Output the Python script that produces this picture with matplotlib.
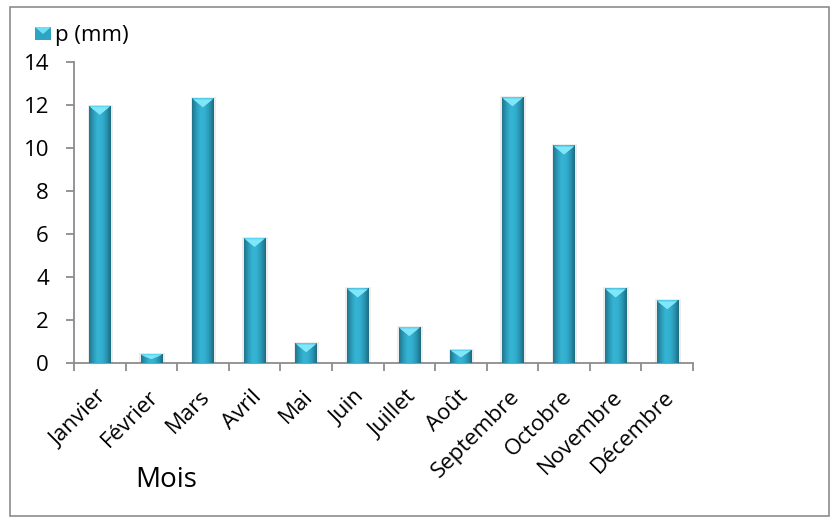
import numpy as np
import matplotlib.pyplot as plt
from matplotlib.colors import LinearSegmentedColormap
from matplotlib.patches import Rectangle, Polygon

mois = ['Janvier', 'Février', 'Mars', 'Avril', 'Mai', 'Juin',
        'Juillet', 'Août', 'Septembre', 'Octobre', 'Novembre', 'Décembre']
p_mm = [11.95, 0.4, 12.3, 5.8, 0.9, 3.45, 1.65, 0.6, 12.35, 10.1, 3.45, 2.9]
serie = 'p (mm)'
y_ticks = [0, 2, 4, 6, 8, 10, 12, 14]

plt.rcParams['font.family'] = ['Open Sans', 'DejaVu Sans']

fig = plt.figure(figsize=(8.39, 5.24), dpi=100)
ax = fig.add_axes([0.0882, 0.3082, 0.7378, 0.5741])

# horizontal shading across each bar, dark edges and bright middle
shade = LinearSegmentedColormap.from_list(
    'cyl', ['#22738a', '#2b9cba', '#36b5d5', '#33afcf', '#2896b3', '#1f6a7e'])
grad = np.linspace(0, 1, 64).reshape(1, -1)

width = 0.415
x = np.arange(len(mois)) + 0.5
bars = ax.bar(x, p_mm, width=width, color='#2ea4c3', edgecolor='none', zorder=2)

for b, h in zip(bars, p_mm):
    x0 = b.get_x()
    x1 = x0 + b.get_width()
    # soft shadow around the bar
    ax.add_patch(Rectangle((x0 - 0.03, 0), x1 - x0 + 0.08, h + 0.05, color='#000000',
                           alpha=0.07, lw=0, zorder=1))
    im = ax.imshow(grad, cmap=shade, extent=[x0, x1, 0, h], aspect='auto',
                   zorder=3, interpolation='bicubic')
    im.set_clip_path(b)
    # bevelled top cap
    d = min(0.42, h * 0.6)
    xc = (x0 + x1) / 2
    ax.add_patch(Polygon([[x0, h], [x1, h], [x1 - 0.03, h - 0.07],
                          [xc, h - d], [x0 + 0.03, h - 0.07]],
                         closed=True, color='#5fd6ef', lw=0, zorder=4))
    ax.add_patch(Polygon([[x0 + 0.03, h - 0.07], [xc, h - d], [x1 - 0.03, h - 0.07]],
                         closed=True, color='#7fe7f9', lw=0, zorder=4))

ax.set_xlim(0, 12)
ax.set_ylim(0, 14)

axis_grey = '#8c8c8c'
for side in ['top', 'right']:
    ax.spines[side].set_visible(False)
for side in ['left', 'bottom']:
    ax.spines[side].set_color(axis_grey)
    ax.spines[side].set_linewidth(1.3)

ax.set_yticks(y_ticks)
ax.set_yticklabels([str(t) for t in y_ticks], fontsize=16)
ax.set_xticks(np.arange(13))
ax.set_xticklabels([])
ax.tick_params(axis='both', direction='out', length=6, width=1.3, color=axis_grey)
ax.tick_params(axis='y', pad=12)

for xi, name in zip(x, mois):
    ax.text(xi + 0.08, -1.45, name, rotation=45, rotation_mode='anchor',
            ha='right', va='center', fontsize=16)

fig.text(166 / 839, 1 - 480 / 524, 'Mois', ha='center', va='center', fontsize=20)

# legend entry
fig.patches.append(Rectangle((35 / 839, 1 - 40 / 524), 16 / 839, 13 / 524,
                             transform=fig.transFigure, color='#2ea4c3', lw=0))
fig.patches.append(Polygon([[35 / 839, 1 - 27 / 524], [51 / 839, 1 - 27 / 524],
                            [43 / 839, 1 - 34 / 524]], closed=True,
                           transform=fig.transFigure, color='#6fdff5', lw=0))
fig.text(55 / 839, 1 - 35 / 524, serie, ha='left', va='center', fontsize=16)

# chart frame
fig.patches.append(Rectangle((10 / 839, 8 / 524), 819 / 839, 509 / 524,
                             transform=fig.transFigure, fill=False,
                             edgecolor='#8c8c8c', lw=1.2))

fig.savefig('out.png', dpi=100)
